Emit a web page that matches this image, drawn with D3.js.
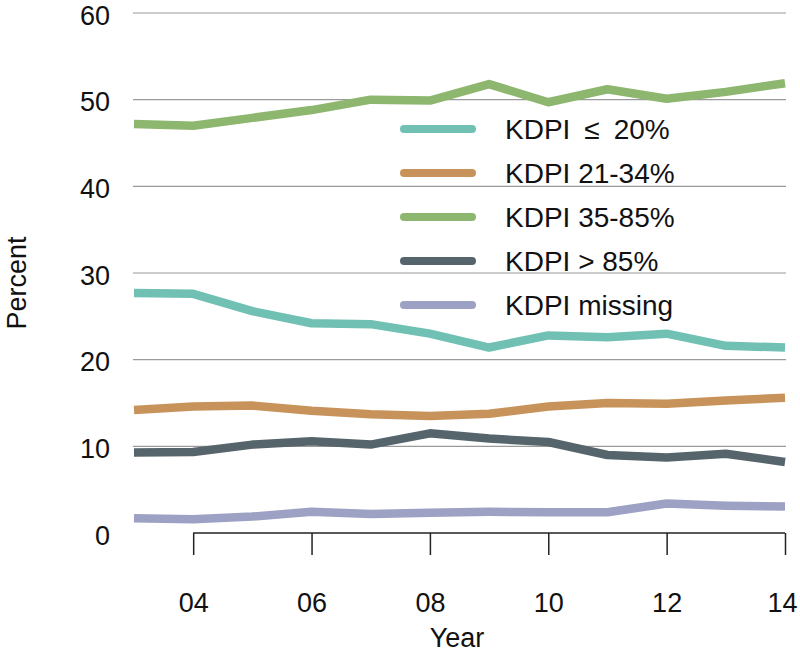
<!DOCTYPE html>
<html><head><meta charset="utf-8">
<script src="https://cdn.jsdelivr.net/npm/d3@7"></script>
<style>body{margin:0;background:#fff}svg{display:block}text{font-family:"Liberation Sans",Arial,sans-serif;fill:#111}</style>
</head><body><svg id="c" width="800" height="656"></svg>
<script>
const years=[2003,2004,2005,2006,2007,2008,2009,2010,2011,2012,2013,2014];
const seriesNames=["KDPI\u2002\u2264\u200220%","KDPI 21-34%","KDPI 35-85%","KDPI > 85%","KDPI missing"];
const kdpiLe20=[27.7,27.6,25.6,24.2,24.1,23.0,21.4,22.8,22.6,23.0,21.6,21.4];
const kdpi21to34=[14.2,14.6,14.7,14.1,13.7,13.5,13.75,14.6,15.0,14.9,15.3,15.6];
const kdpi35to85=[47.2,47.0,47.9,48.8,50.0,49.9,51.8,49.7,51.2,50.1,50.9,51.9];
const kdpiGt85=[9.3,9.35,10.2,10.6,10.2,11.5,10.9,10.5,9.0,8.7,9.15,8.2];
const kdpiMissing=[1.7,1.6,1.9,2.45,2.2,2.35,2.45,2.4,2.4,3.4,3.15,3.05];
const colors=["#71c0b4","#c8935a","#8db66f","#56646b","#9da1c3"];
const yTicks=[0,10,20,30,40,50,60];
const xTicks=[2004,2006,2008,2010,2012,2014];
const xTickLabels=["04","06","08","10","12","14"];
const allSeries=[kdpiLe20,kdpi21to34,kdpi35to85,kdpiGt85,kdpiMissing];

const svg=d3.select("#c");
const x=d3.scaleLinear().domain([2003,2014]).range([134,785]);
const y=d3.scaleLinear().domain([0,60]).range([533,13]);
const fs=27;

// gridlines
svg.append("g").selectAll("line").data(yTicks.filter(d=>d>0)).join("line")
 .attr("x1",133).attr("x2",786).attr("y1",d=>y(d)).attr("y2",d=>y(d))
 .attr("stroke","#9a9a9a").attr("stroke-width",1.2);
// y labels
svg.append("g").selectAll("text").data(yTicks).join("text")
 .attr("x",110).attr("y",d=>y(d)+2).attr("dy","0.36em").attr("text-anchor","end")
 .attr("font-size",fs).text(d=>d);
// x axis
const xa=svg.append("g").attr("transform","translate(0,533)")
 .call(d3.axisBottom(x).tickValues(xTicks).tickFormat((d,i)=>xTickLabels[i]).tickSize(22).tickPadding(38));
xa.select(".domain").remove();
xa.append("line").attr("x1",x(2004)).attr("x2",x(2014)).attr("stroke","#222").attr("stroke-width",1.5);
xa.selectAll(".tick line").attr("stroke","#222").attr("stroke-width",1.5);
xa.selectAll(".tick text").attr("font-size",fs).attr("fill","#111")
 .style("font-family","'Liberation Sans',Arial,sans-serif");
xa.selectAll(".tick").filter(d=>d===2014).select("text").attr("text-anchor","end").attr("dx","12");
svg.append("text").attr("x",457).attr("y",647).attr("text-anchor","middle").attr("font-size",fs).text("Year");
svg.append("text").attr("transform","translate(26,283) rotate(-90)").attr("text-anchor","middle").attr("font-size",fs).text("Percent");

// lines
const line=d3.line().x((d,i)=>x(years[i])).y(d=>y(d));
svg.append("g").selectAll("path").data(allSeries).join("path")
 .attr("d",line).attr("fill","none").attr("stroke",(d,i)=>colors[i])
 .attr("stroke-width",8.5).attr("stroke-linejoin","round");

// legend
const lg=svg.append("g").selectAll("g").data(seriesNames).join("g")
 .attr("transform",(d,i)=>`translate(0,${129+i*44})`);
lg.append("line").attr("x1",404).attr("x2",472).attr("stroke",(d,i)=>colors[i])
 .attr("stroke-width",8).attr("stroke-linecap","round");
lg.append("text").attr("x",505).attr("dy","0.36em").attr("font-size",28).text(d=>d);
</script></body></html>
